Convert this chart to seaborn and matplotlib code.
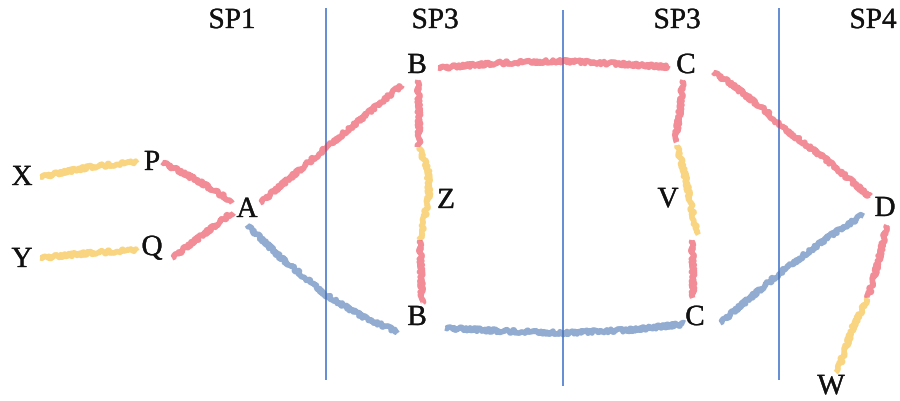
import pandas as pd
import matplotlib
matplotlib.use("Agg")
import matplotlib.pyplot as plt
import matplotlib.patheffects as pe
import seaborn as sns

# -----------------------------
# DATA (pixel coordinates)
# -----------------------------
header_labels = ["SP1", "SP3", "SP3", "SP4"]
header_x = [232, 435, 677, 873]
header_y = [21, 21, 21, 21]

divider_x = [326, 563, 779]
divider_top = [8, 10, 8]
divider_bottom = [380, 386, 380]

node_labels = ["X", "Y", "P", "Q", "A", "B", "Z", "B", "C", "V", "C", "D", "W"]
node_x = [22, 22, 152, 152, 247, 417, 446, 417, 686, 668, 695, 885, 831]
node_y = [178, 260, 163, 248, 210, 66, 201, 318, 66, 200, 318, 209, 387]

# strokes: name, colour, xs, ys
xp_x, xp_y = [40, 90, 137], [177, 167, 162]
yq_x, yq_y = [40, 90, 137], [258, 253, 250]
pa_x, pa_y = [162, 200, 233], [162, 182, 202]
qa_x, qa_y = [172, 200, 233], [258, 237, 212]
ab_red_x, ab_red_y = [260, 326, 402], [203, 148, 85]
ab_blue_x, ab_blue_y = [247, 280, 326, 365, 398], [225, 257, 295, 318, 332]
bb_top_x, bb_top_y = [418, 419, 419], [80, 115, 147]
bb_mid_x, bb_mid_y = [419, 428, 429, 424, 420], [147, 170, 195, 220, 240]
bb_bot_x, bb_bot_y = [420, 421, 422], [240, 270, 303]
bc_top_x, bc_top_y = [438, 500, 563, 620, 668], [68, 63, 61, 64, 67]
bc_bot_x, bc_bot_y = [445, 500, 563, 630, 685], [328, 331, 333, 330, 324]
cc_top_x, cc_top_y = [683, 680, 675], [80, 110, 142]
cc_mid_x, cc_mid_y = [677, 686, 692, 697], [145, 180, 210, 235]
cc_bot_x, cc_bot_y = [692, 693, 693], [240, 270, 298]
cd_top_x, cd_top_y = [713, 730, 767, 779, 823, 870], [72, 83, 112, 125, 157, 197]
cd_bot_x, cd_bot_y = [720, 750, 780, 827, 863], [323, 298, 273, 238, 215]
dw_red_x, dw_red_y = [887, 878, 868], [225, 263, 298]
dw_yel_x, dw_yel_y = [868, 853, 837], [298, 327, 373]

strokes = [
    ("xp", "yellow", xp_x, xp_y),
    ("yq", "yellow", yq_x, yq_y),
    ("pa", "red", pa_x, pa_y),
    ("qa", "red", qa_x, qa_y),
    ("ab_red", "red", ab_red_x, ab_red_y),
    ("ab_blue", "blue", ab_blue_x, ab_blue_y),
    ("bb_top", "red", bb_top_x, bb_top_y),
    ("bb_mid", "yellow", bb_mid_x, bb_mid_y),
    ("bb_bot", "red", bb_bot_x, bb_bot_y),
    ("bc_top", "red", bc_top_x, bc_top_y),
    ("bc_bot", "blue", bc_bot_x, bc_bot_y),
    ("cc_top", "red", cc_top_x, cc_top_y),
    ("cc_mid", "yellow", cc_mid_x, cc_mid_y),
    ("cc_bot", "red", cc_bot_x, cc_bot_y),
    ("cd_top", "red", cd_top_x, cd_top_y),
    ("cd_bot", "blue", cd_bot_x, cd_bot_y),
    ("dw_red", "red", dw_red_x, dw_red_y),
    ("dw_yel", "yellow", dw_yel_x, dw_yel_y),
]

palette = {"red": "#ea3f50", "yellow": "#f6b92e", "blue": "#4a74b2"}

rows = []
for name, colour, xs, ys in strokes:
    for i, (x, y) in enumerate(zip(xs, ys)):
        rows.append({"seg": name, "colour": colour, "order": i, "x": x, "y": y})
df = pd.DataFrame(rows)

# -----------------------------
# PLOT
# -----------------------------
sns.set_style("white")
plt.rcParams["font.family"] = ["Liberation Serif", "DejaVu Serif"]

fig = plt.figure(figsize=(9, 4.01), dpi=100)
ax = fig.add_axes([0, 0, 1, 1])

ax.vlines(divider_x, divider_top, divider_bottom, color="#4a78cc", linewidth=1.2, zorder=1)

sns.lineplot(data=df, x="x", y="y", units="seg", estimator=None, sort=False,
             hue="colour", palette=palette, legend=False, linewidth=4.0,
             alpha=0.6, ax=ax, zorder=2)

# crayon-ish wobble
for line in ax.lines:
    line.set_sketch_params(scale=1.6, length=2.0, randomness=30)
    line.set_solid_capstyle("butt")

thicken = [pe.withStroke(linewidth=0.25, foreground="#111111")]

for lab, x, y in zip(header_labels, header_x, header_y):
    ax.text(x, y, lab, fontsize=21, ha="center", va="center", color="#111111",
            path_effects=thicken)

for lab, x, y in zip(node_labels, node_x, node_y):
    ax.text(x, y, lab, fontsize=21, ha="center", va="center", color="#111111",
            path_effects=thicken)

ax.set_xlim(0, 900)
ax.set_ylim(401, 0)
ax.set_axis_off()

fig.savefig("out.png", dpi=100)
